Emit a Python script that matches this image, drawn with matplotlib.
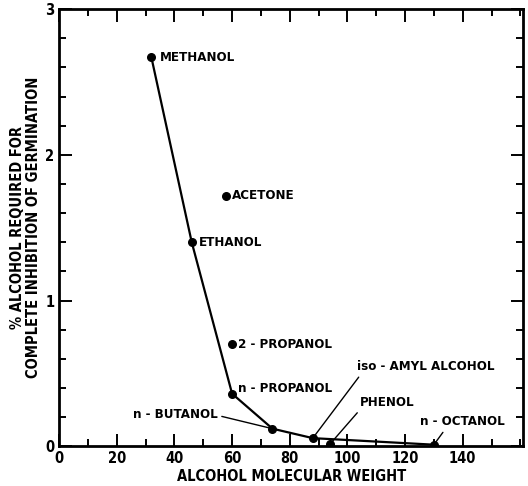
import matplotlib
matplotlib.use("Agg")
import matplotlib.pyplot as plt
from matplotlib.ticker import MultipleLocator

plt.rcParams["font.family"] = ["DejaVu Sans"]
plt.rcParams["font.stretch"] = "condensed"
plt.rcParams["font.weight"] = "bold"
plt.rcParams["axes.labelweight"] = "bold"

# curve through the alcohols
line_names = ["METHANOL", "ETHANOL", "n - PROPANOL", "n - BUTANOL",
              "iso - AMYL ALCOHOL", "n - OCTANOL"]
line_mw = [32, 46, 60, 74, 88, 130]
line_pct = [2.67, 1.40, 0.36, 0.12, 0.055, 0.01]

# compounds off the curve
extra_names = ["ACETONE", "2 - PROPANOL", "PHENOL"]
extra_mw = [58, 60, 94]
extra_pct = [1.72, 0.70, 0.015]

INK = "black"

fig = plt.figure(figsize=(5.28, 4.86), dpi=100)
ax = fig.add_axes([0.112, 0.082, 0.879, 0.899])

ax.plot(line_mw, line_pct, color=INK, lw=1.6, zorder=2)
ax.scatter(line_mw, line_pct, s=30, color=INK, zorder=3)
ax.scatter(extra_mw, extra_pct, s=30, color=INK, zorder=3)

fs = 9.5
# labels placed right of the dot
ax.annotate("METHANOL", (32, 2.67), xytext=(6, 0), textcoords="offset points",
            va="center", fontsize=fs)
ax.annotate("ETHANOL", (46, 1.40), xytext=(5, 0), textcoords="offset points",
            va="center", fontsize=fs)
ax.annotate("ACETONE", (58, 1.72), xytext=(4, 0), textcoords="offset points",
            va="center", fontsize=fs)
ax.annotate("2 - PROPANOL", (60, 0.70), xytext=(4, 0), textcoords="offset points",
            va="center", fontsize=fs)
ax.annotate("n - PROPANOL", (60, 0.36), xytext=(4, 4), textcoords="offset points",
            va="center", fontsize=fs)

# labels with leader lines
lead = dict(arrowstyle="-", color=INK, lw=1.0, shrinkA=1, shrinkB=2)
ax.annotate("n - BUTANOL", (74, 0.12), xytext=(55.0, 0.22), textcoords="data",
            ha="right", va="center", fontsize=fs,
            arrowprops=dict(lead, relpos=(1.0, 0.4)))
ax.annotate("iso - AMYL ALCOHOL", (88, 0.055), xytext=(103.5, 0.545),
            textcoords="data", ha="left", va="center", fontsize=fs,
            arrowprops=dict(lead, relpos=(0.03, 0.0)))
ax.annotate("PHENOL", (94, 0.015), xytext=(104.2, 0.30), textcoords="data",
            ha="left", va="center", fontsize=fs,
            arrowprops=dict(lead, relpos=(0.02, 0.0)))
ax.annotate("n - OCTANOL", (130, 0.01), xytext=(125.3, 0.166),
            textcoords="data", ha="left", va="center", fontsize=fs,
            arrowprops=dict(lead, relpos=(0.3, 0.0)))

ax.set_xlim(0, 161)
ax.set_ylim(0, 3.0)
ax.xaxis.set_major_locator(MultipleLocator(20))
ax.xaxis.set_minor_locator(MultipleLocator(10))
ax.yaxis.set_major_locator(MultipleLocator(1))
ax.yaxis.set_minor_locator(MultipleLocator(0.2))
ax.set_xticks([0, 20, 40, 60, 80, 100, 120, 140])

ax.tick_params(which="both", direction="in", top=True, right=True,
               width=1.4, labelsize=10.5)
ax.tick_params(which="major", length=9)
ax.tick_params(which="minor", length=5)
for s in ax.spines.values():
    s.set_linewidth(2)

ax.set_xlabel("ALCOHOL MOLECULAR WEIGHT", fontsize=10.5, labelpad=2)
ax.set_ylabel("% ALCOHOL REQUIRED FOR\nCOMPLETE INHIBITION OF GERMINATION",
              fontsize=10.5, labelpad=3, linespacing=1.1)

fig.savefig("out.png", dpi=100)
